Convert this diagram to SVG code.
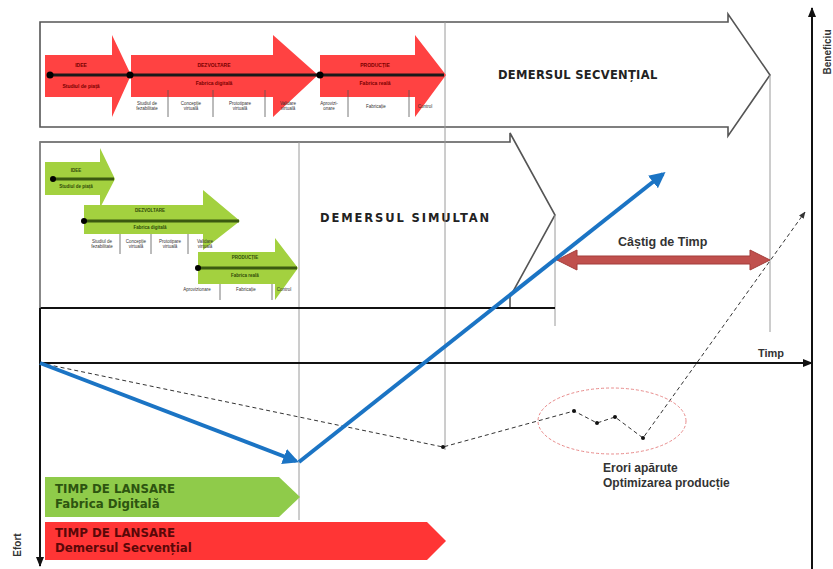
<svg xmlns="http://www.w3.org/2000/svg" width="833" height="569" viewBox="0 0 833 569">
  <style>
    .frame { fill: #ffffff; stroke: #555555; stroke-width: 1.6; }
    .guide { stroke: #9a9a9a; stroke-width: 1; fill: none; }
    .axis { stroke: #111111; stroke-width: 2; fill: none; }
    .red { fill: #ff4242; }
    .green { fill: #a3d13f; }
    .tl { stroke: #1a1a1a; stroke-width: 3; }
    .tl-g { stroke: #3b5a10; stroke-width: 3; }
    .dot { fill: #000000; }
    .cap { font-family: "DejaVu Sans", Verdana, sans-serif; font-weight: bold; font-size: 11.5px; fill: #222222; }
    .lbl { font-family: "Liberation Sans", Arial, sans-serif; font-weight: bold; fill: #333333; }
    .tiny { font-family: "Liberation Sans", Arial, sans-serif; font-size: 4.5px; fill: #333333; text-anchor: middle; }
    .tiny-r { font-family: "Liberation Sans", Arial, sans-serif; font-size: 5px; font-weight: bold; fill: #7a0000; text-anchor: middle; }
    .tiny-g { font-family: "Liberation Sans", Arial, sans-serif; font-size: 4.5px; font-weight: bold; fill: #2f4a08; text-anchor: middle; }
    .sep { stroke: #555555; stroke-width: 0.8; }
    .bar { font-family: "DejaVu Sans", Verdana, sans-serif; font-weight: bold; font-size: 11.8px; }
  </style>
  <defs>
    <marker id="blueHead" viewBox="0 0 10 10" refX="8" refY="5" markerWidth="4" markerHeight="4" orient="auto">
      <path d="M0,0 L10,5 L0,10 Z" fill="#1b74c4"/>
    </marker>
    <marker id="blackHead" viewBox="0 0 10 10" refX="9" refY="5" markerWidth="5" markerHeight="5" orient="auto">
      <path d="M0,1 L10,5 L0,9 Z" fill="#111111"/>
    </marker>
    <marker id="smallHead" viewBox="0 0 10 10" refX="9" refY="5" markerWidth="7" markerHeight="7" orient="auto">
      <path d="M0,1 L10,5 L0,9 Z" fill="#333333"/>
    </marker>
  </defs>

  <rect width="833" height="569" fill="#ffffff"/>

  <!-- Sequential approach frame -->
  <g id="demers-secvential">
    <path class="frame" d="M40,22 H728 V14 L770,75 L728,136 V127 H40 Z"/>
    <text class="cap" x="498" y="79" letter-spacing="0.3">DEMERSUL SECVENȚIAL</text>
  </g>

  <!-- Simultaneous approach frame -->
  <g id="demers-simultan">
    <path class="frame" d="M40,142 H510 V133 L555,215 L510,297 V308 H40 Z"/>
    <text class="cap" x="320" y="222" letter-spacing="1.9">DEMERSUL SIMULTAN</text>
  </g>

  <!-- Guide lines -->
  <g id="guides">
    <line class="guide" x1="445" y1="22" x2="445" y2="450"/>
    <line class="guide" x1="299" y1="142" x2="299" y2="520"/>
    <line class="guide" x1="555" y1="215" x2="555" y2="326"/>
    <line class="guide" x1="770" y1="75" x2="770" y2="332"/>
  </g>

  <!-- Sequential phases -->
  <g id="faze-secventiale">
    <path class="red" d="M45,55 H112 V35 L131,75 L112,117 V97 H45 Z"/>
    <path class="red" d="M131,55 H273 V35 L318,75 L273,117 V97 H131 Z"/>
    <path class="red" d="M320,55 H415 V35 L446,75 L415,117 V97 H320 Z"/>
    <line class="tl" x1="50" y1="75" x2="444" y2="75"/>
    <circle class="dot" cx="50" cy="75" r="3.5"/>
    <circle class="dot" cx="130" cy="75" r="3.5"/>
    <circle class="dot" cx="320" cy="75" r="3.5"/>
    <text class="tiny-r" x="81" y="67">IDEE</text>
    <text class="tiny-r" x="81" y="88">Studiul de piață</text>
    <text class="tiny-r" x="214" y="67">DEZVOLTARE</text>
    <text class="tiny-r" x="214" y="85">Fabrica digitală</text>
    <text class="tiny-r" x="375" y="67">PRODUCȚIE</text>
    <text class="tiny-r" x="375" y="85">Fabrica reală</text>
    <line class="sep" x1="168" y1="90" x2="168" y2="117"/>
    <line class="sep" x1="213" y1="90" x2="213" y2="117"/>
    <line class="sep" x1="265" y1="90" x2="265" y2="117"/>
    <line class="sep" x1="348" y1="90" x2="348" y2="117"/>
    <line class="sep" x1="409" y1="90" x2="409" y2="117"/>
    <text class="tiny" x="147" y="105">Studiul de</text>
    <text class="tiny" x="147" y="110">fezabilitate</text>
    <text class="tiny" x="191" y="105">Concepție</text>
    <text class="tiny" x="191" y="110">virtuală</text>
    <text class="tiny" x="240" y="105">Prototipare</text>
    <text class="tiny" x="240" y="110">virtuală</text>
    <text class="tiny" x="288" y="105">Validare</text>
    <text class="tiny" x="288" y="110">virtuală</text>
    <text class="tiny" x="329" y="105">Aprovizi-</text>
    <text class="tiny" x="329" y="110">onare</text>
    <text class="tiny" x="376" y="108">Fabricație</text>
    <text class="tiny" x="425" y="108">Control</text>
  </g>

  <!-- Simultaneous phases -->
  <g id="faze-simultane">
    <path class="green" d="M45,162 H100 V148 L115,179 L100,208 V195 H45 Z"/>
    <path class="green" d="M84,205 H203 V190 L240,221 L203,250 V234 H84 Z"/>
    <path class="green" d="M198,252 H275 V238 L298,268 L275,300 V284 H198 Z"/>
    <line class="tl-g" x1="53" y1="179" x2="114" y2="179"/>
    <line class="tl-g" x1="84" y1="221" x2="239" y2="221"/>
    <line class="tl-g" x1="198" y1="268" x2="297" y2="268"/>
    <circle class="dot" cx="53" cy="179" r="3"/>
    <circle class="dot" cx="84" cy="221" r="3"/>
    <circle class="dot" cx="198" cy="268" r="3"/>
    <text class="tiny-g" x="76" y="172">IDEE</text>
    <text class="tiny-g" x="76" y="188">Studiul de piață</text>
    <text class="tiny-g" x="150" y="212">DEZVOLTARE</text>
    <text class="tiny-g" x="150" y="229">Fabrica digitală</text>
    <text class="tiny-g" x="245" y="259">PRODUCȚIE</text>
    <text class="tiny-g" x="245" y="277">Fabrica reală</text>
    <line class="sep" x1="120" y1="234" x2="120" y2="254"/>
    <line class="sep" x1="151" y1="234" x2="151" y2="254"/>
    <line class="sep" x1="188" y1="234" x2="188" y2="254"/>
    <line class="sep" x1="220" y1="284" x2="220" y2="300"/>
    <line class="sep" x1="272" y1="284" x2="272" y2="300"/>
    <text class="tiny" x="102" y="243">Studiul de</text>
    <text class="tiny" x="102" y="248">fezabilitate</text>
    <text class="tiny" x="136" y="243">Concepție</text>
    <text class="tiny" x="136" y="248">virtuală</text>
    <text class="tiny" x="170" y="243">Prototipare</text>
    <text class="tiny" x="170" y="248">virtuală</text>
    <text class="tiny" x="205" y="243">Validare</text>
    <text class="tiny" x="205" y="248">virtuală</text>
    <text class="tiny" x="197" y="291">Aprovizionare</text>
    <text class="tiny" x="246" y="291">Fabricație</text>
    <text class="tiny" x="284" y="291">Control</text>
  </g>

  <!-- Axes -->
  <g id="axe">
    <line class="axis" x1="40" y1="308" x2="555" y2="308"/>
    <line class="guide" x1="40" y1="142" x2="40" y2="308"/>
    <line class="axis" x1="40" y1="308" x2="40" y2="566" marker-end="url(#blackHead)"/>
    <line class="axis" x1="40" y1="363" x2="812" y2="363" marker-end="url(#blackHead)"/>
    <line class="axis" x1="812" y1="569" x2="812" y2="8" marker-end="url(#blackHead)"/>
    <text class="lbl" x="758" y="357" font-size="11">Timp</text>
    <text class="lbl" font-size="10" transform="translate(831,52) rotate(-90)" text-anchor="middle">Beneficiu</text>
    <text class="lbl" font-size="10" transform="translate(21,545) rotate(-90)" text-anchor="middle">Efort</text>
  </g>

  <!-- Time gain -->
  <g id="castig-timp">
    <path d="M557,260 L577,250 V256 H750 V250 L770,260 L750,270 V264 H577 V270 Z" fill="#c0504d" stroke="#a33d3a" stroke-width="1"/>
    <text class="lbl" x="618" y="246" font-size="12.5">Câștig de Timp</text>
  </g>

  <!-- Curves -->
  <g id="conectori">
    <polyline points="40,363 443,447 574,411 597,423 615,417 643,438 805,212" fill="none" stroke="#333333" stroke-width="1" stroke-dasharray="4,3" marker-end="url(#smallHead)"/>
    <circle cx="443" cy="447" r="2" fill="#111"/>
    <circle cx="574" cy="411" r="2" fill="#111"/>
    <circle cx="597" cy="423" r="2" fill="#111"/>
    <circle cx="615" cy="417" r="2" fill="#111"/>
    <circle cx="643" cy="438" r="2" fill="#111"/>
    <line x1="40" y1="363" x2="296" y2="461" stroke="#1b74c4" stroke-width="4" marker-end="url(#blueHead)"/>
    <line x1="299" y1="462" x2="663" y2="174" stroke="#1b74c4" stroke-width="4" marker-end="url(#blueHead)"/>
  </g>

  <!-- Production errors -->
  <g id="erori">
    <ellipse cx="612" cy="421" rx="74" ry="33" fill="none" stroke="#e88a8a" stroke-width="1" stroke-dasharray="3,2"/>
    <text class="lbl" x="603" y="472" font-size="12">Erori apărute</text>
    <text class="lbl" x="603" y="487" font-size="12">Optimizarea producție</text>
  </g>

  <!-- Launch time bars -->
  <g id="lansare-digitala">
    <path d="M45,477 H279 L300,497 L279,517 H45 Z" fill="#8fcb4a"/>
    <text class="bar" x="55" y="493" fill="#2d5410">TIMP DE LANSARE</text>
    <text class="bar" x="55" y="508" fill="#2d5410">Fabrica Digitală</text>
  </g>
  <g id="lansare-secventiala">
    <path d="M45,522 H427 L446,541 L427,560 H45 Z" fill="#ff3535"/>
    <text class="bar" x="55" y="537" fill="#5a0808">TIMP DE LANSARE</text>
    <text class="bar" x="55" y="552" fill="#5a0808">Demersul Secvențial</text>
  </g>
</svg>
